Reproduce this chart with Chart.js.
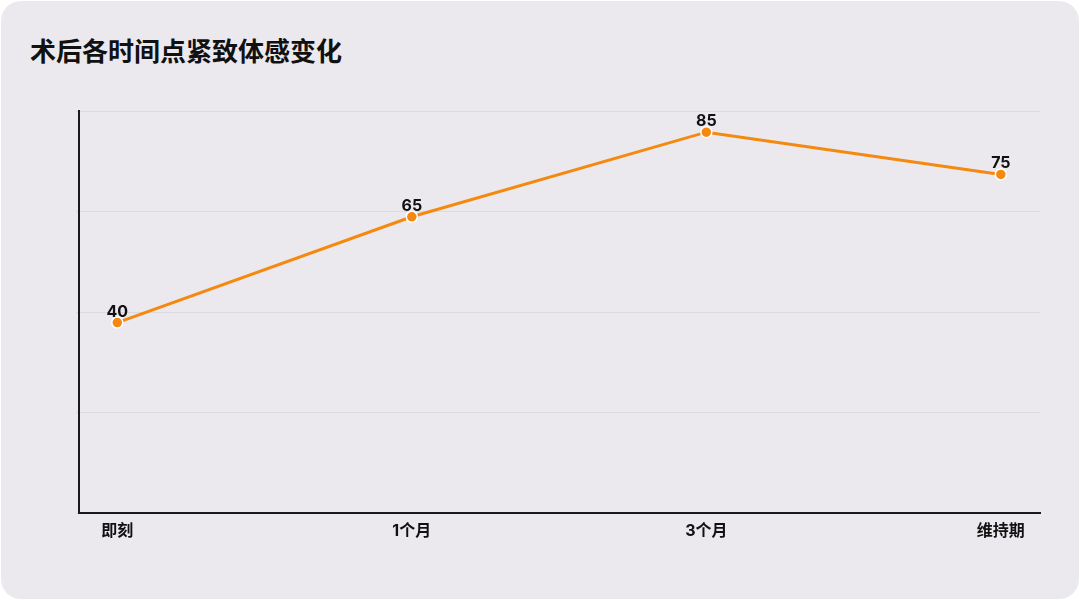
<!DOCTYPE html>
<html><head><meta charset="utf-8">
<script src="https://cdn.jsdelivr.net/npm/chart.js@4/dist/chart.umd.min.js"></script>
<style>
html,body{margin:0;padding:0;background:#ffffff;width:1080px;height:600px;overflow:hidden;}
#card{position:absolute;left:1px;top:1px;width:1078px;height:598px;border-radius:20px;background:#ebe9ee;overflow:hidden;}
#title{position:absolute;left:30px;top:32px;font-family:"Noto Sans CJK SC","Noto Sans",sans-serif;font-weight:700;font-size:26px;color:#111;line-height:36px;margin:0;}
canvas{position:absolute;left:0;top:0;}
</style></head>
<body>
<div id="card"></div>
<div id="title">术后各时间点紧致体感变化</div>
<canvas id="c" width="1080" height="600"></canvas>
<script>
const categories = ["即刻", "1个月", "3个月", "维持期"];
const values = [40, 65, 85, 75];
const yGridTicks = [-5, 18.75, 42.5, 66.25, 90];

const FONT = 'Inter,"Noto Sans CJK SC","Noto Sans",sans-serif';
const LINE = '#f5890f';

const labelPlugin = {
  id: 'valueLabels',
  afterDatasetsDraw(chart) {
    const ctx = chart.ctx;
    const meta = chart.getDatasetMeta(0);
    ctx.save();
    ctx.font = '700 16px ' + FONT;
    ctx.fillStyle = '#111111';
    ctx.textAlign = 'center';
    ctx.textBaseline = 'alphabetic';
    meta.data.forEach((pt, i) => {
      ctx.fillText(String(values[i]), pt.x, pt.y - 6);
    });
    ctx.restore();
  }
};

new Chart(document.getElementById('c'), {
  type: 'line',
  data: {
    datasets: [{
      data: values.map((v, i) => ({x: i, y: v})),
      borderColor: LINE,
      backgroundColor: LINE,
      borderWidth: 3,
      pointRadius: 5.5,
      pointBorderColor: '#ffffff',
      pointBorderWidth: 1.5,
      pointBackgroundColor: LINE,
      tension: 0,
      fill: false
    }]
  },
  options: {
    responsive: false,
    animation: false,
    devicePixelRatio: 1,
    layout: {padding: {left: 69, right: 40, top: 111, bottom: 27}},
    plugins: {legend: {display: false}, tooltip: {enabled: false}, title: {display: false}},
    scales: {
      x: {
        type: 'linear',
        min: -0.13,
        max: 3.133,
        afterBuildTicks: (s) => { s.ticks = categories.map((c, i) => ({value: i})); },
        afterFit: (s) => { s.height = 60; },
        grid: {display: false, drawTicks: false},
        border: {display: true, color: '#1a1a1a', width: 2},
        ticks: {
          padding: 9,
          maxRotation: 0,
          autoSkip: false,
          color: '#111111',
          font: {family: FONT, size: 16, weight: '700'},
          callback: (v) => categories[v] !== undefined ? categories[v] : ''
        }
      },
      y: {
        type: 'linear',
        min: -5,
        max: 90,
        afterBuildTicks: (s) => { s.ticks = yGridTicks.map(v => ({value: v})); },
        afterFit: (s) => { s.width = 10; },
        grid: {color: '#dcdae0', lineWidth: 1, drawTicks: true, tickLength: 3},
        border: {display: true, color: '#1a1a1a', width: 2},
        ticks: {display: false}
      }
    }
  },
  plugins: [labelPlugin]
});
</script>
</body></html>
